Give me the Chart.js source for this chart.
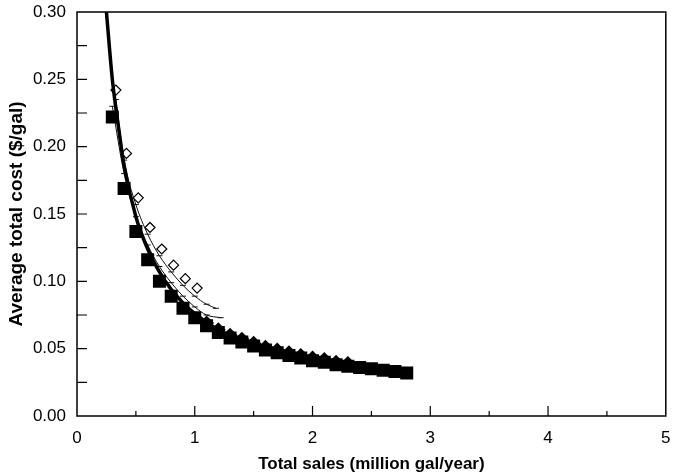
<!DOCTYPE html>
<html>
<head>
<meta charset="utf-8">
<script src="https://cdn.jsdelivr.net/npm/chart.js@4.4.1/dist/chart.umd.min.js"></script>
<style>
  html, body { margin: 0; padding: 0; background: #fff; }
  #wrap { width: 675px; height: 475px; }
</style>
</head>
<body>
<div id="wrap"><canvas id="cost-chart"></canvas></div>
<script>
// ── DATA ─────────────────────────────────────────────

// filled squares (0.3 to 2.8 million gal/year)
var squareX = [0.3, 0.4, 0.5, 0.6, 0.7, 0.8, 0.9, 1.0, 1.1, 1.2, 1.3, 1.4, 1.5,
               1.6, 1.7, 1.8, 1.9, 2.0, 2.1, 2.2, 2.3, 2.4, 2.5, 2.6, 2.7, 2.8];
var squareY = [0.222, 0.169, 0.137, 0.116, 0.100, 0.089, 0.080, 0.073, 0.067, 0.062, 0.058, 0.055, 0.052,
               0.049, 0.047, 0.045, 0.043, 0.041, 0.040, 0.038, 0.037, 0.036, 0.035, 0.034, 0.033, 0.032];

// filled diamonds sitting on the squares
var filledDiamondX = [1.1, 1.2, 1.3, 1.4, 1.5, 1.6, 1.7, 1.8, 1.9, 2.0, 2.1, 2.2, 2.3];
var filledDiamondY = [0.069, 0.064, 0.060, 0.057, 0.054, 0.051, 0.049, 0.047, 0.045, 0.043, 0.042, 0.040, 0.039];

// open diamonds
var openDiamondX = [0.33, 0.42, 0.52, 0.62, 0.72, 0.82, 0.92, 1.02];
var openDiamondY = [0.242, 0.195, 0.162, 0.140, 0.124, 0.112, 0.102, 0.095];

// heavy fitted curve
var fitX = [0.25, 0.3, 0.35, 0.4, 0.5, 0.6, 0.7, 0.8, 0.9, 1.0, 1.2, 1.4, 1.6, 1.8, 2.0, 2.2, 2.4, 2.6, 2.8];
var fitY = [0.300, 0.250, 0.216, 0.186, 0.148, 0.124, 0.107, 0.094, 0.084, 0.076, 0.064, 0.056, 0.050, 0.046, 0.042, 0.039, 0.036, 0.034, 0.032];

// two light curves
var thinAX = [0.33, 0.4, 0.5, 0.6, 0.7, 0.8, 0.9, 1.0, 1.1, 1.18];
var thinAY = [0.235, 0.190, 0.157, 0.135, 0.119, 0.107, 0.097, 0.089, 0.083, 0.080];
var thinBX = [0.3, 0.4, 0.5, 0.6, 0.7, 0.8, 0.9, 1.0, 1.1, 1.22];
var thinBY = [0.230, 0.180, 0.148, 0.127, 0.111, 0.099, 0.089, 0.081, 0.075, 0.073];

// axes
var xMin = 0, xMax = 5, xStep = 1, xMinorStep = 0.5;
var yMin = 0, yMax = 0.30, yStep = 0.05, yMinorStep = 0.025;
var xTitle = 'Total sales (million gal/year)';
var yTitle = 'Average total cost ($/gal)';

function pairs(xs, ys) {
    var pts = [];
    for (var i = 0; i < xs.length; i++) {
        pts.push({ x: xs[i], y: ys[i] });
    }
    return pts;
}

// ── FRAME AND INWARD TICKS ───────────────────────────

var framePlugin = {
    id: 'frame',
    afterDraw: function(chart) {
        var c = chart.ctx;
        var a = chart.chartArea;
        var xs = chart.scales.x;
        var ys = chart.scales.y;
        c.save();
        c.strokeStyle = '#000';
        c.lineWidth = 1.5;
        c.strokeRect(a.left, a.top, a.right - a.left, a.bottom - a.top);

        c.lineWidth = 1.2;
        c.beginPath();
        for (var v = xMin + xMinorStep; v < xMax - 1e-9; v += xMinorStep) {
            var px = xs.getPixelForValue(v);
            var major = Math.abs(v - Math.round(v)) < 1e-9;
            var len = major ? 10 : 5;
            c.moveTo(px, a.bottom);
            c.lineTo(px, a.bottom - len);
        }
        for (var w = yMin + yMinorStep; w < yMax - 1e-9; w += yMinorStep) {
            var py = ys.getPixelForValue(w);
            c.moveTo(a.left, py);
            c.lineTo(a.left + 10, py);
        }
        c.stroke();
        c.restore();
    }
};

// ── CHART ────────────────────────────────────────────

var ctx = document.getElementById('cost-chart').getContext('2d');

var chart = new Chart(ctx, {
    type: 'scatter',
    data: {
        datasets: [
            {
                data: pairs(squareX, squareY),
                pointStyle: 'rect',
                pointRadius: 9.2,
                backgroundColor: '#000',
                borderColor: '#000',
                borderWidth: 0,
                showLine: false
            },
            {
                data: pairs(filledDiamondX, filledDiamondY),
                pointStyle: 'rectRot',
                pointRadius: 7.5,
                backgroundColor: '#000',
                borderColor: '#000',
                borderWidth: 0,
                showLine: false
            },
            {
                data: pairs(fitX, fitY),
                showLine: true,
                pointRadius: 0,
                borderColor: '#000',
                borderWidth: 3.5,
                cubicInterpolationMode: 'monotone'
            },
            {
                data: pairs(openDiamondX, openDiamondY),
                pointStyle: 'rectRot',
                pointRadius: 5,
                backgroundColor: '#fff',
                borderColor: '#000',
                borderWidth: 1.2,
                showLine: false
            },
            {
                data: pairs(thinAX, thinAY),
                showLine: true,
                pointStyle: 'line',
                pointRadius: 3,
                borderColor: '#111',
                borderWidth: 1,
                cubicInterpolationMode: 'monotone'
            },
            {
                data: pairs(thinBX, thinBY),
                showLine: true,
                pointStyle: 'line',
                pointRadius: 3,
                borderColor: '#111',
                borderWidth: 1,
                cubicInterpolationMode: 'monotone'
            }
        ]
    },
    options: {
        responsive: true,
        maintainAspectRatio: false,
        animation: false,
        layout: { padding: { top: 12, right: 8, left: 0, bottom: 0 } },
        plugins: {
            legend: { display: false },
            tooltip: { enabled: false }
        },
        scales: {
            x: {
                type: 'linear',
                min: xMin,
                max: xMax,
                grid: { display: false, drawTicks: false },
                border: { display: false },
                ticks: {
                    stepSize: xStep,
                    color: '#000',
                    padding: 12,
                    font: { family: 'Liberation Sans', size: 17 }
                },
                title: {
                    display: true,
                    text: xTitle,
                    color: '#000',
                    padding: { top: 4, bottom: 0 },
                    font: { family: 'Liberation Sans', size: 17, weight: 'bold' }
                },
                afterFit: function(scale) {
                    scale.height = 59;
                    scale.paddingLeft = 0;
                    scale.paddingRight = 0;
                }
            },
            y: {
                type: 'linear',
                min: yMin,
                max: yMax,
                grid: { display: false, drawTicks: false },
                border: { display: false },
                ticks: {
                    stepSize: yStep,
                    color: '#000',
                    padding: 11,
                    font: { family: 'Liberation Sans', size: 17 },
                    callback: function(v) { return v.toFixed(2); }
                },
                title: {
                    display: true,
                    text: yTitle,
                    color: '#000',
                    padding: { top: 5, bottom: 0 },
                    font: { family: 'Liberation Sans', size: 19, weight: 'bold' }
                },
                afterFit: function(scale) {
                    scale.width = 77;
                    scale.paddingTop = 0;
                    scale.paddingBottom = 0;
                }
            }
        }
    },
    plugins: [framePlugin]
});
</script>
</body>
</html>
